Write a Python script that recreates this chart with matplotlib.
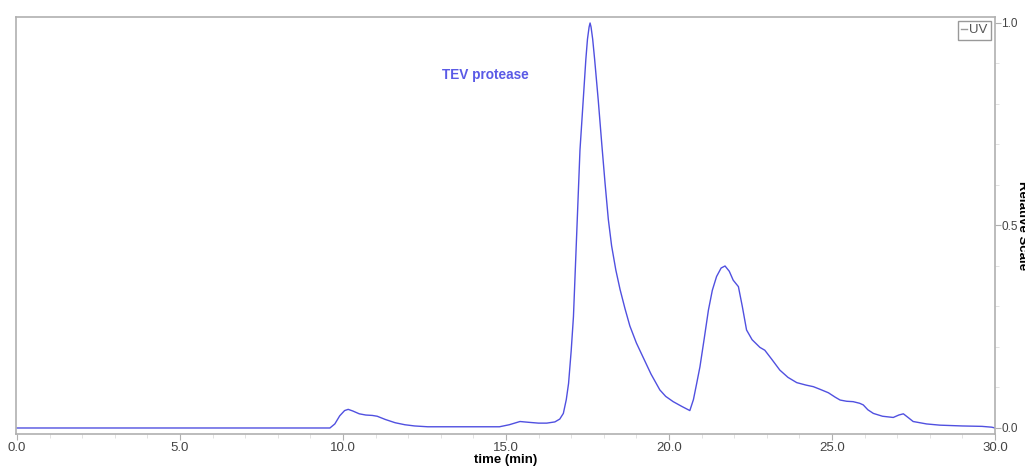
import matplotlib.pyplot as plt
from matplotlib.ticker import MultipleLocator, FormatStrFormatter

plt.rcdefaults()
plt.rcParams['font.family'] = ['Liberation Sans Narrow', 'Liberation Sans', 'DejaVu Sans']

# UV trace (time in min, relative absorbance)
time_min = [0.0, 9.6, 9.75, 9.9, 10.05, 10.16, 10.3, 10.5, 10.7, 10.9, 11.05,
            11.3, 11.6, 11.9, 12.2, 12.6, 14.8, 15.1, 15.43, 15.7, 16.0, 16.25,
            16.5, 16.65, 16.76, 16.85, 16.92, 17.0, 17.07, 17.17, 17.27, 17.37,
            17.45, 17.5, 17.55, 17.58, 17.61, 17.66, 17.72, 17.83, 17.94, 18.04,
            18.14, 18.24, 18.37, 18.5, 18.65, 18.8, 19.0, 19.21, 19.45, 19.72,
            19.9, 20.13, 20.4, 20.64, 20.75, 20.85, 20.95, 21.08, 21.21, 21.33,
            21.46, 21.6, 21.72, 21.85, 21.97, 22.13, 22.25, 22.38, 22.55, 22.79,
            22.94, 23.15, 23.4, 23.65, 23.92, 24.2, 24.43, 24.65, 24.89, 25.1,
            25.25, 25.45, 25.65, 25.85, 25.96, 26.1, 26.27, 26.55, 26.88, 27.05,
            27.19, 27.35, 27.49, 27.9, 28.31, 29.0, 29.6, 29.9, 30.0]
uv = [0.0, 0.0, 0.01, 0.03, 0.043, 0.046, 0.042, 0.035, 0.032, 0.031, 0.029,
      0.021, 0.013, 0.008, 0.005, 0.003, 0.003, 0.008, 0.016, 0.014, 0.012, 0.012,
      0.015, 0.022, 0.036, 0.07, 0.11, 0.19, 0.275, 0.48, 0.686, 0.81,
      0.91, 0.96, 0.99, 1.0, 0.99, 0.96, 0.91, 0.81, 0.70, 0.604,
      0.515, 0.45, 0.39, 0.342, 0.295, 0.252, 0.21, 0.174, 0.133, 0.094,
      0.078, 0.065, 0.053, 0.043, 0.07, 0.11, 0.151, 0.22, 0.291, 0.34,
      0.374, 0.395, 0.40, 0.387, 0.365, 0.349, 0.30, 0.242, 0.218, 0.199,
      0.192, 0.17, 0.143, 0.125, 0.112, 0.106, 0.102, 0.095, 0.087, 0.076,
      0.069, 0.066, 0.065, 0.061, 0.057, 0.045, 0.036, 0.029, 0.026, 0.032,
      0.035, 0.025, 0.016, 0.01, 0.007, 0.005, 0.004, 0.002, 0.0]

peak_label = "TEV protease"
trace_name = "UV"

fig = plt.figure(figsize=(10.25, 4.67), dpi=100)
ax = fig.add_axes([0.0156, 0.0707, 0.9551, 0.8929])

ax.plot(time_min, uv, color='#5050e0', lw=1.0, label=trace_name,
        solid_joinstyle='round')

ax.set_xlim(-0.03, 30)
ax.set_ylim(-0.0148, 1.0148)

gray = '#b0b0b0'
for s in ax.spines.values():
    s.set_color(gray)
    s.set_linewidth(1.2)

ax.yaxis.tick_right()
ax.xaxis.set_major_locator(MultipleLocator(5))
ax.xaxis.set_minor_locator(MultipleLocator(1))
ax.xaxis.set_major_formatter(FormatStrFormatter('%.1f'))
ax.yaxis.set_major_locator(MultipleLocator(0.5))
ax.yaxis.set_minor_locator(MultipleLocator(0.1))
ax.yaxis.set_major_formatter(FormatStrFormatter('%.1f'))
ax.tick_params(which='major', direction='out', length=4, color=gray,
               labelsize=9.5, labelcolor='#444444', pad=2)
ax.tick_params(axis='y', which='major', labelsize=8.5, pad=0.5)
ax.tick_params(which='minor', direction='out', length=3, color='#dddddd')

ax.set_xlabel('time (min)', fontsize=9.5, fontweight='bold', labelpad=0)
fig.text(1022 / 1025, 0.518, 'Relative Scale', rotation=270, ha='center',
         va='center', fontsize=9.5, fontweight='bold')

ax.text(14.36, 0.872, peak_label, color='#5a5ae6', fontsize=9.8,
        fontweight='bold', ha='center', va='center')

leg = ax.legend(loc='upper right', handlelength=0.4, handletextpad=0.2,
                borderpad=0.25, fancybox=False, fontsize=9.5,
                borderaxespad=0.3, framealpha=1)
leg.get_frame().set_edgecolor('#999999')
leg.get_frame().set_linewidth(1.0)
for t in leg.get_texts():
    t.set_color('#555555')
leg.get_lines()[0].set_color('#999999')

fig.savefig('out.png', dpi=100)
